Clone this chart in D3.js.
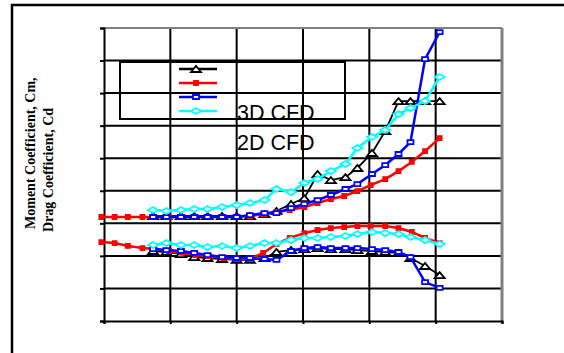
<!DOCTYPE html>
<html>
<head>
<meta charset="utf-8">
<script src="https://cdn.jsdelivr.net/npm/d3@7"></script>
<style>
body { margin: 0; background: #fff; }
</style>
</head>
<body>
<script>
// values
const angle = [3.7, 4.7, 5.8, 6.8, 7.8, 8.9, 10.0, 11.0, 12.1, 13.0, 14.1, 15.1, 16.1, 17.1, 18.2, 19.1, 20.2, 21.2, 22.2, 23.1, 24.2, 25.3];
const angleRed = [-0.2, 0.8, 1.8, 2.9, 3.8, 4.9, 5.9, 6.9, 7.9, 9.0, 10.0, 11.0, 12.0, 13.0, 14.0, 15.1, 16.1, 17.1, 18.1, 19.1, 20.1, 21.2, 22.2, 23.2, 24.2, 25.3];

// black, triangles
const cdBlack = [0.045, 0.045, 0.045, 0.045, 0.045, 0.045, 0.045, 0.045, 0.057, 0.076, 0.119, 0.155, 0.303, 0.266, 0.284, 0.340, 0.432, 0.567, 0.751, 0.751, 0.751, 0.751];
const cmBlack = [-0.170, -0.176, -0.189, -0.207, -0.213, -0.219, -0.225, -0.225, -0.213, -0.176, -0.164, -0.158, -0.152, -0.158, -0.158, -0.164, -0.170, -0.176, -0.182, -0.213, -0.262, -0.318];

// red, small squares
const cdRed = [0.039, 0.039, 0.039, 0.039, 0.039, 0.039, 0.039, 0.039, 0.039, 0.039, 0.039, 0.045, 0.057, 0.069, 0.082, 0.100, 0.125, 0.149, 0.168, 0.198, 0.235, 0.272, 0.321, 0.377, 0.444, 0.524];
const cmRed = [-0.115, -0.121, -0.139, -0.152, -0.158, -0.170, -0.182, -0.195, -0.201, -0.213, -0.219, -0.219, -0.182, -0.127, -0.090, -0.060, -0.041, -0.029, -0.023, -0.017, -0.017, -0.017, -0.029, -0.053, -0.090, -0.121];

// blue, open squares (3D CFD)
const cd3D = [0.039, 0.039, 0.039, 0.039, 0.039, 0.039, 0.039, 0.051, 0.063, 0.063, 0.094, 0.119, 0.143, 0.174, 0.211, 0.241, 0.303, 0.358, 0.426, 0.499, 1.009, 1.175];
const cm3D = [-0.158, -0.164, -0.170, -0.182, -0.195, -0.207, -0.213, -0.213, -0.219, -0.225, -0.170, -0.152, -0.146, -0.152, -0.152, -0.152, -0.158, -0.164, -0.176, -0.207, -0.361, -0.397];

// cyan, diamonds (2D CFD)
const cd2D = [0.082, 0.076, 0.082, 0.088, 0.088, 0.100, 0.112, 0.125, 0.143, 0.211, 0.192, 0.248, 0.272, 0.321, 0.364, 0.463, 0.530, 0.573, 0.671, 0.708, 0.751, 0.899];
const cm2D = [-0.133, -0.121, -0.133, -0.133, -0.146, -0.139, -0.152, -0.139, -0.121, -0.121, -0.103, -0.090, -0.090, -0.084, -0.078, -0.066, -0.053, -0.060, -0.066, -0.084, -0.103, -0.127];

const xTicks = [0, 5, 10, 15, 20, 25, 30];
const yTicks = [-0.6, -0.4, -0.2, 0, 0.2, 0.4, 0.6, 0.8, 1.0, 1.2];
const legendLabels = ["3D CFD", "2D CFD"];
const yTitle = ["Moment Coefficient, Cm,", "Drag Coefficient, Cd"];

const canvWidth = 564, canvHeight = 353;
const svg = d3.select("body").append("svg")
    .attr("width", canvWidth)
    .attr("height", canvHeight);

const margin = {top: 28, right: 62, bottom: 32, left: 104};
const width = canvWidth - margin.left - margin.right;
const height = canvHeight - margin.top - margin.bottom;

// outer chart frame, only top and left edges fall inside the picture
svg.append("path")
    .attr("d", "M12," + canvHeight + "V5H" + canvWidth)
    .attr("fill", "none")
    .attr("stroke", "#000")
    .attr("stroke-width", 2.5);

const xScale = d3.scaleLinear().domain([0, 30]).range([0, width]);
const yScale = d3.scaleLinear().domain([-0.6, 1.2]).range([height, 0]);

const g = svg.append("g")
    .attr("transform", "translate(" + margin.left + "," + margin.top + ")");

// grid
g.append("g").selectAll("line")
    .data(yTicks.slice(1, -1))
    .join("line")
    .attr("x1", 0).attr("x2", width)
    .attr("y1", d => yScale(d)).attr("y2", d => yScale(d))
    .attr("stroke", "#000").attr("stroke-width", 2);

g.append("g").selectAll("line")
    .data(xTicks.slice(1, -1))
    .join("line")
    .attr("x1", d => xScale(d)).attr("x2", d => xScale(d))
    .attr("y1", 0).attr("y2", height)
    .attr("stroke", "#000").attr("stroke-width", 2);

// top and right border of plot area (grey)
g.append("line")
    .attr("x1", 0).attr("x2", width).attr("y1", 0).attr("y2", 0)
    .attr("stroke", "#808080").attr("stroke-width", 2);
g.append("line")
    .attr("x1", width).attr("x2", width).attr("y1", 0).attr("y2", height)
    .attr("stroke", "#808080").attr("stroke-width", 3);

// axes without labels
const yAxis = d3.axisLeft(yScale).tickValues(yTicks).tickSize(4).tickFormat("");
const xAxis = d3.axisBottom(xScale).tickValues(xTicks).tickSize(3).tickFormat("");
const yAxisG = g.append("g").call(yAxis);
const xAxisG = g.append("g").attr("transform", "translate(0," + height + ")").call(xAxis);
[yAxisG, xAxisG].forEach(a => {
    a.select(".domain").attr("stroke", "#000").attr("stroke-width", 2);
    a.selectAll(".tick line").attr("stroke", "#000").attr("stroke-width", 2);
});

function markerPath(type) {
    if (type === "triangle") return "M-5,3L0,-3L5,3Z";
    if (type === "square") return "M-3,-2H3V2H-3Z";
    if (type === "small") return "M-2,-2H2V2H-2Z";
    return "M-5,0L0,-3L5,0L0,3Z";
}

const series = [
    {x: angle, y: cdBlack, color: "#000000", marker: "triangle", fill: "#fff", lw: 1.8},
    {x: angle, y: cmBlack, color: "#000000", marker: "triangle", fill: "#fff", lw: 1.8},
    {x: angleRed, y: cdRed, color: "#ff0000", marker: "small", fill: "#ff0000", lw: 2.5},
    {x: angleRed, y: cmRed, color: "#ff0000", marker: "small", fill: "#ff0000", lw: 2.5},
    {x: angle, y: cd3D, color: "#0000ff", marker: "square", fill: "#fff", lw: 2.5},
    {x: angle, y: cm3D, color: "#0000ff", marker: "square", fill: "#fff", lw: 2.5},
    {x: angle, y: cd2D, color: "#00ffff", marker: "diamond", fill: "#fff", lw: 2.5},
    {x: angle, y: cm2D, color: "#00ffff", marker: "diamond", fill: "#fff", lw: 2.5}
];

const line = d3.line()
    .x(d => xScale(d[0]))
    .y(d => yScale(d[1]));

series.forEach(s => {
    const pts = s.x.map((v, i) => [v, s.y[i]]);
    g.append("path")
        .datum(pts)
        .attr("d", line)
        .attr("fill", "none")
        .attr("stroke", s.color)
        .attr("stroke-width", s.lw);
    g.append("g").selectAll("path")
        .data(pts)
        .join("path")
        .attr("transform", d => "translate(" + xScale(d[0]) + "," + yScale(d[1]) + ")")
        .attr("d", markerPath(s.marker))
        .attr("fill", s.fill)
        .attr("stroke", s.color)
        .attr("stroke-width", 1.8);
});

// legend
const legend = svg.append("g");
legend.append("rect")
    .attr("x", 120).attr("y", 62)
    .attr("width", 225).attr("height", 57)
    .attr("fill", "none")
    .attr("stroke", "#000")
    .attr("stroke-width", 2);

const legendItems = [series[0], series[2], series[4], series[6]];
legendItems.forEach((s, i) => {
    const ly = 69 + 14 * i;
    legend.append("line")
        .attr("x1", 179).attr("x2", 217)
        .attr("y1", ly).attr("y2", ly)
        .attr("stroke", s.color).attr("stroke-width", 2.5);
    legend.append("path")
        .attr("transform", "translate(196," + ly + ")")
        .attr("d", markerPath(s.marker))
        .attr("fill", s.fill)
        .attr("stroke", s.color)
        .attr("stroke-width", 1.8);
});

legend.selectAll("text")
    .data(legendLabels)
    .join("text")
    .attr("x", 237)
    .attr("y", (d, i) => 120 + 29.5 * i)
    .attr("font-family", "'Liberation Sans', Arial, sans-serif")
    .attr("font-size", "21.5px")
    .text(d => d);

// y axis title, two rotated lines
svg.append("g").selectAll("text")
    .data(yTitle)
    .join("text")
    .attr("transform", (d, i) => "translate(" + (35 + 18 * i) + "," + (229 + 3 * i) + ") rotate(-90)")
    .attr("font-family", "'Liberation Serif', 'Times New Roman', serif")
    .attr("font-weight", "bold")
    .attr("font-size", "14px")
    .style("text-anchor", "start")
    .text(d => d);
</script>
</body>
</html>
